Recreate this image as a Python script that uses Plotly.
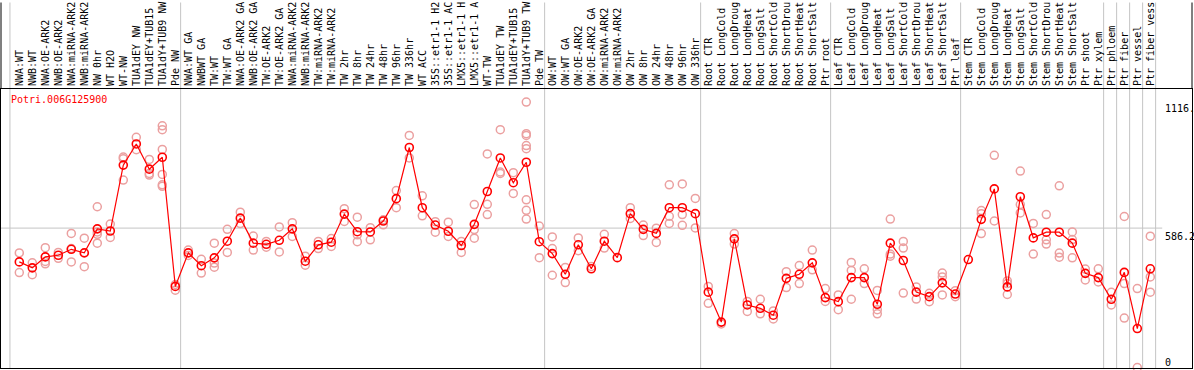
import plotly.graph_objects as go

gene = "Potri.006G125900"

labels = [
    "NWA:WT", "NWB:WT", "NWA:OE-ARK2", "NWB:OE-ARK2", "NWA:miRNA-ARK2", "NWB:miRNA-ARK2",
    "NW 0hr", "WT H2O", "WT-NW", "TUA1dEY NW", "TUA1dEY+TUB15", "TUA1dY+TUB9 NW", "Pde NW",
    "NWA:WT GA", "NWBWT GA", "TW:WT", "TW:WT GA", "NWA:OE-ARK2 GA", "NWB:OE-ARK2 GA",
    "TW:OE-ARK2", "TW:OE-ARK2 GA", "NWA:miRNA-ARK2", "NWB:miRNA-ARK2", "TW:miRNA-ARK2",
    "TW:miRNA-ARK2", "TW 2hr", "TW 8hr", "TW 24hr", "TW 48hr", "TW 96hr", "TW 336hr",
    "WT ACC", "35S::etr1-1 H2", "35S::etr1-1 AC", "LMX5::etr1-1 H", "LMX5::etr1-1 A",
    "WT-TW", "TUA1dEY TW", "TUA1dEY+TUB15", "TUA1dY+TUB9 TW", "Pde TW",
    "OW:WT", "OW:WT GA", "OW:OE-ARK2", "OW:OE-ARK2 GA", "OW:miRNA-ARK2", "OW:miRNA-ARK2",
    "OW 2hr", "OW 8hr", "OW 24hr", "OW 48hr", "OW 96hr", "OW 336hr",
    "Root CTR", "Root LongCold", "Root LongDroug", "Root LongHeat", "Root LongSalt",
    "Root ShortCold", "Root ShortDrou", "Root ShortHeat", "Root ShortSalt", "Ptr root",
    "Leaf CTR", "Leaf LongCold", "Leaf LongDroug", "Leaf LongHeat", "Leaf LongSalt",
    "Leaf ShortCold", "Leaf ShortDrou", "Leaf ShortHeat", "Leaf ShortSalt", "Ptr leaf",
    "Stem CTR", "Stem LongCold", "Stem LongDroug", "Stem LongHeat", "Stem LongSalt",
    "Stem ShortCold", "Stem ShortDrou", "Stem ShortHeat", "Stem ShortSalt", "Ptr shoot",
    "Ptr xylem", "Ptr phloem", "Ptr fiber", "Ptr vessel", "Ptr fiber vess",
]

means = [
    444, 419, 465, 472, 497, 482, 583, 574, 851, 940, 834, 884, 341,
    482, 428, 461, 531, 628, 523, 518, 535, 583, 447, 516, 527, 645, 571, 570, 616,
    710, 925, 672, 599, 573, 513, 602, 740, 881, 777, 863, 529,
    479, 392, 516, 415, 531, 462, 647, 581, 564, 672, 672, 647,
    317, 191, 541, 263, 249, 220, 375, 392, 440, 294,
    277, 378, 378, 266, 523, 450, 317, 298, 356, 309,
    454, 623, 751, 339, 718, 545, 569, 569, 523, 396, 378,
    287, 400, 164, 415,
]

replicates = [
    [482, 399], [440, 390], [504, 436, 446], [484, 459], [564, 444, 500], [544, 424],
    [676, 560, 523, 570], [603, 547], [885, 878, 788], [968, 916], [875, 809, 816],
    [1016, 1000, 917, 812, 768, 762], [349, 325],
    [494, 471], [455, 397], [523, 439, 422], [581, 484], [653, 605], [553, 494],
    [530, 506], [591, 486], [609, 551], [468, 430], [530, 500], [542, 509],
    [668, 614], [632, 529, 558], [588, 537], [600, 621], [744, 672], [976, 881],
    [722, 638], [613, 569], [611, 551], [530, 484], [685, 580, 544], [898, 686, 643],
    [1000, 822, 816], [819, 732], [1116, 983, 976, 933, 920, 705, 661, 624], [595, 462],
    [549, 500, 388], [421, 357], [545, 491], [425], [560, 502], [],
    [672, 627], [599, 555], [586, 526], [768, 636, 606], [772, 643, 598], [711, 587],
    [341, 270], [183], [563, 519], [278, 236], [287, 226], [238, 204], [403, 336],
    [429, 353], [494, 411], [332, 278],
    [305, 243], [442, 408, 287], [415, 353], [324, 243, 226], [624, 477, 468],
    [530, 502, 313], [339, 288], [312, 277], [397, 381, 305], [323, 298],
    [], [660, 647, 563], [892, 616], [364, 353, 307], [826, 685, 650], [606, 477],
    [643, 537, 519], [764, 481, 464], [570, 538, 461], [414, 368], [415, 360],
    [316, 263], [635, 353, 208], [332, 0], [552, 381, 317],
]

group_sizes = [13, 28, 12, 10, 10, 11, 1, 1, 1, 1]
ref_value = 586.2
max_value = 1116
max_text = "1116."

MONO = "DejaVu Sans Mono"
RED = "#FF0000"
PINK = "#EBA0A0"
GRID = "#C4C4C4"

idx = list(range(len(labels)))
rx, ry = [], []
for i, vals in enumerate(replicates):
    for v in vals:
        rx.append(i)
        ry.append(v)

fig = go.Figure()
fig.add_trace(go.Scatter(
    x=rx, y=ry, mode="markers",
    marker=dict(symbol="circle-open", size=8, color=PINK, line=dict(width=1.5, color=PINK)),
    hoverinfo="skip", showlegend=False, cliponaxis=False,
))
fig.add_trace(go.Scatter(
    x=idx, y=means, mode="lines+markers",
    line=dict(color=RED, width=1.2),
    marker=dict(symbol="circle-open", size=8, color=RED, line=dict(width=1.6, color=RED)),
    showlegend=False, cliponaxis=False,
))

# group separators
bounds = [-0.72]
acc = 0
for g in group_sizes:
    acc += g
    bounds.append(acc - 1 + 0.41)
shapes = []
for b in bounds:
    shapes.append(dict(type="line", xref="x", yref="paper", x0=b, x1=b, y0=0, y1=1.31,
                       line=dict(color=GRID, width=1), layer="below"))
shapes.append(dict(type="line", xref="paper", yref="y", x0=0, x1=0.975, y0=ref_value, y1=ref_value,
                   line=dict(color=GRID, width=1), layer="below"))
# outer frame of label band
shapes.append(dict(type="line", xref="paper", yref="paper", x0=0, x1=0, y0=1, y1=1.31,
                   line=dict(color="black", width=1)))
shapes.append(dict(type="line", xref="paper", yref="paper", x0=1, x1=1, y0=1, y1=1.31,
                   line=dict(color="black", width=1)))

annotations = [
    dict(text=gene, xref="paper", yref="paper", x=0.0067, y=1, xanchor="left", yanchor="top",
         yshift=-3, showarrow=False, font=dict(family=MONO, size=10, color=RED)),
    dict(text=max_text, xref="paper", yref="y", x=0.9757, y=max_value, xanchor="left", yanchor="top",
         yshift=1, showarrow=False, font=dict(family=MONO, size=10, color="black")),
    dict(text=str(ref_value), xref="paper", yref="y", x=0.9757, y=ref_value, xanchor="left",
         yanchor="top", yshift=-1, showarrow=False, font=dict(family=MONO, size=10, color="black")),
    dict(text="0", xref="paper", yref="y", x=0.9757, y=0, xanchor="left", yanchor="bottom",
         yshift=-2, showarrow=False, font=dict(family=MONO, size=10, color="black")),
]

fig.update_layout(
    width=1194, height=370,
    margin=dict(l=1, r=2, t=86, b=1, pad=0),
    paper_bgcolor="white", plot_bgcolor="white",
    shapes=shapes, annotations=annotations,
    xaxis=dict(range=[-1.408, 90.208], side="top", tickmode="array", tickvals=idx, ticktext=labels,
               tickangle=-90, tickfont=dict(family=MONO, size=10, color="black"), ticks="",
               showgrid=False, zeroline=False, showline=True, mirror=True, linecolor="black",
               linewidth=1),
    yaxis=dict(range=[-2, 1171], showticklabels=False, ticks="", showgrid=False, zeroline=False,
               showline=True, mirror=True, linecolor="black", linewidth=1),
)

fig.write_html("out.html", config={"displayModeBar": False},
               post_script="document.body.style.margin='0';")
